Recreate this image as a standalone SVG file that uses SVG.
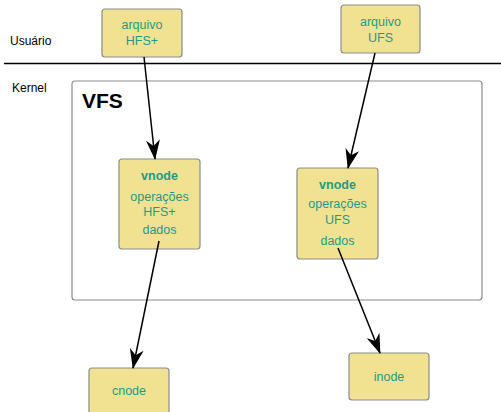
<svg xmlns="http://www.w3.org/2000/svg" width="501" height="412" viewBox="0 0 501 412">
<style>
.box{fill:#f0e290;stroke:#8c8c8c;stroke-width:1.2}
.t{font-family:"Liberation Sans",Arial,sans-serif;font-size:12.5px;fill:#1e9a8c;text-anchor:middle}
.b{font-weight:bold}
.lbl{font-family:"Liberation Sans",Arial,sans-serif;font-size:12px;fill:#000}
.edge{stroke:#000;stroke-width:1.5;fill:none;marker-end:url(#arr)}
</style>
<defs>
<marker id="arr" markerUnits="userSpaceOnUse" viewBox="0 0 20 14" refX="19" refY="7" markerWidth="20" markerHeight="14" orient="auto">
<path d="M0,0 L20,7 L0,14 L6,7 Z" fill="#000"/>
</marker>
</defs>
<rect width="501" height="412" fill="#fff"/>
<g id="layers">
<text class="lbl" x="10" y="45">Usuário</text>
<text class="lbl" x="12" y="92">Kernel</text>
<line x1="4" y1="63.5" x2="501" y2="63.5" stroke="#000" stroke-width="1.3"/>
</g>
<g id="vfs">
<rect x="72" y="81" width="410" height="219" rx="3" fill="#fff" stroke="#8c8c8c" stroke-width="1.2"/>
<text x="82" y="108" font-family="Liberation Sans,Arial,sans-serif" font-size="21" font-weight="bold" fill="#000">VFS</text>
</g>
<g id="arquivo-hfs">
<rect class="box" x="102" y="9" width="80" height="48" rx="3"/>
<text class="t" x="142" y="29">arquivo</text>
<text class="t" x="142" y="45">HFS+</text>
</g>
<g id="arquivo-ufs">
<rect class="box" x="341" y="5" width="79" height="48" rx="3"/>
<text class="t" x="380.5" y="26">arquivo</text>
<text class="t" x="380.5" y="42">UFS</text>
</g>
<g id="vnode-hfs">
<rect class="box" x="119" y="159" width="81" height="90" rx="3"/>
<text class="t b" x="159.5" y="180">vnode</text>
<text class="t" x="159.5" y="201">operações</text>
<text class="t" x="159.5" y="216">HFS+</text>
<text class="t" x="159.5" y="234">dados</text>
</g>
<g id="vnode-ufs">
<rect class="box" x="297" y="168" width="81" height="91" rx="3"/>
<text class="t b" x="337.5" y="189">vnode</text>
<text class="t" x="337.5" y="208">operações</text>
<text class="t" x="337.5" y="224">UFS</text>
<text class="t" x="337.5" y="245">dados</text>
</g>
<g id="cnode">
<rect class="box" x="89" y="368" width="80" height="50" rx="3"/>
<text class="t" x="129" y="395">cnode</text>
</g>
<g id="inode">
<rect class="box" x="349" y="353" width="80" height="47" rx="3"/>
<text class="t" x="389" y="381">inode</text>
</g>
<g id="connectors">
<line class="edge" x1="144" y1="57" x2="155" y2="159"/>
<line class="edge" x1="375" y1="53" x2="348" y2="168"/>
<line class="edge" x1="159" y1="241" x2="133" y2="368"/>
<line class="edge" x1="338" y1="248" x2="380" y2="353"/>
</g>
</svg>
